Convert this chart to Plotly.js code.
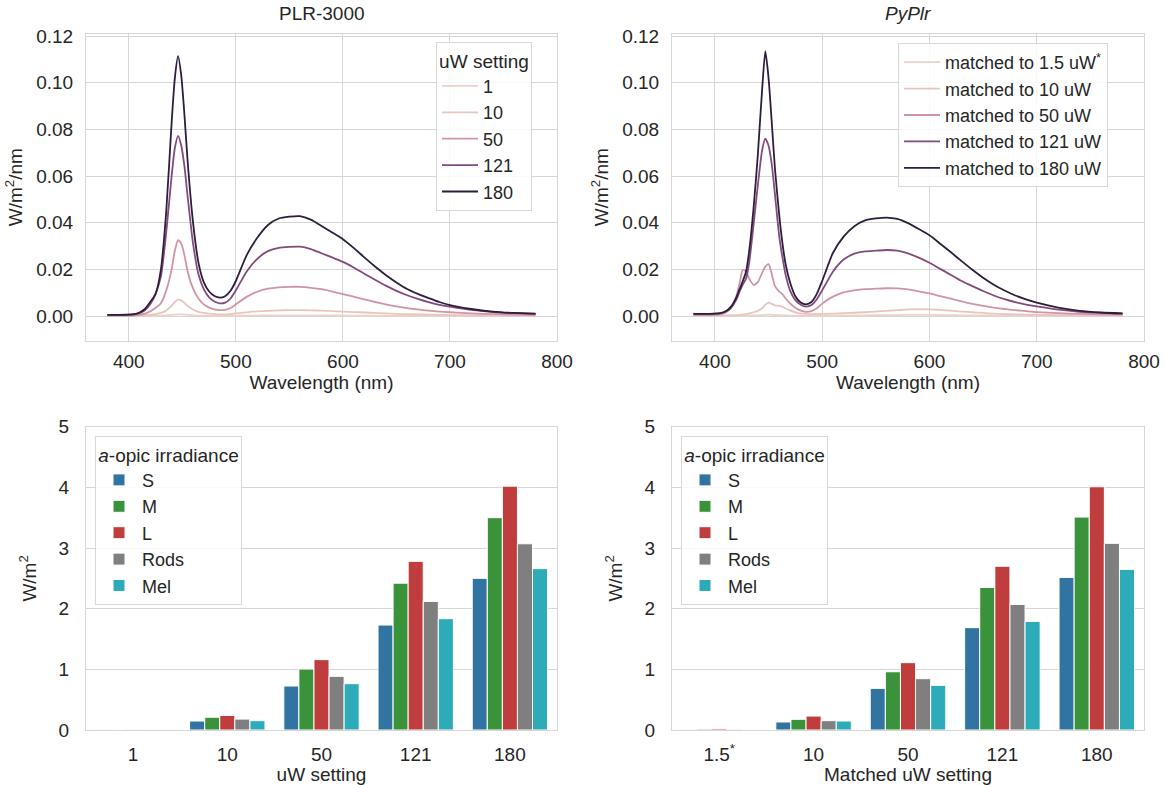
<!DOCTYPE html>
<html><head><meta charset="utf-8">
<script src="https://cdn.plot.ly/plotly-3.0.1.min.js"></script>
<style>html,body{margin:0;padding:0;background:#fff}#chart{width:1165px;height:785px}</style>
</head><body><div id="chart"></div>
<script>
// ---- Spectra: PLR-3000 ----
const wlPLR = [380,390,400,405,410,415,420,425,430,435,440,443,446,449,452,455,460,465,470,475,480,485,490,495,500,510,520,530,540,550,560,570,580,590,600,610,620,630,640,650,660,670,680,690,700,720,740,760,780];
const plr1 = [.0001,.0001,.0001,.0001,.0001,.0001,.0001,.0001,.0002,.0003,.0005,.0006,.0007,.0007,.0006,.0005,.0003,.0002,.0002,.0001,.0001,.0001,.0001,.0001,.0002,.0002,.0002,.0003,.0003,.0003,.0003,.0003,.0003,.0003,.0002,.0002,.0002,.0002,.0001,.0001,.0001,.0001,.0001,.0001,.0001,.0001,.0001,.0001,.0001];
const plr10 = [.0001,.0001,.0001,.0001,.0002,.0003,.0005,.0008,.0013,.0024,.0044,.006,.007,.0067,.0056,.0043,.0028,.0018,.0013,.001,.0008,.0007,.0007,.0008,.0011,.0016,.002,.0022,.0024,.0025,.0025,.0024,.0023,.0021,.0019,.0017,.0015,.0013,.0011,.0009,.0008,.0007,.0006,.0005,.0004,.0003,.0002,.0002,.0001];
const plr50 = [.0002,.0002,.0002,.0003,.0005,.001,.002,.0035,.0055,.011,.020,.028,.0325,.031,.026,.019,.0118,.0075,.005,.0036,.0028,.0025,.0026,.0034,.005,.0082,.0104,.0117,.0123,.0125,.0125,.0121,.0115,.0105,.0094,.0083,.0071,.006,.005,.0041,.0034,.0028,.0023,.0019,.0016,.0011,.0008,.0006,.0005];
const plr121 = [.0005,.0005,.0006,.0007,.0012,.0025,.005,.0095,.017,.036,.060,.072,.0772,.073,.064,.051,.031,.018,.0115,.008,.0062,.0054,.0057,.0075,.011,.019,.0245,.0278,.0292,.0296,.0297,.0287,.0269,.0251,.0232,.0208,.0181,.0155,.013,.0108,.0089,.0073,.0059,.0048,.004,.0026,.0017,.0012,.0009];
const plr180 = [.0005,.0005,.0006,.0008,.0015,.003,.006,.0095,.02,.045,.083,.102,.1114,.103,.086,.066,.040,.023,.0145,.0105,.0086,.0079,.0085,.0108,.015,.026,.0335,.039,.0418,.0426,.0428,.0413,.0386,.0358,.0329,.0292,.0251,.0212,.0176,.0144,.0116,.0095,.0077,.006,.0047,.003,.0019,.0013,.001];
const plrLevels = ['1','10','50','121','180'];

// ---- Spectra: PyPlr ----
const wlPyPlr = [380,390,400,405,410,415,420,423,426,429,432,436,440,444,447,450,453,456,460,463,466,470,475,480,485,490,495,500,510,520,530,540,550,560,570,580,590,600,610,620,630,640,650,660,670,680,690,700,720,740,760,780];
const py1p5 = [.0002,.0002,.0002,.0002,.0002,.0002,.0002,.0002,.0002,.0002,.0002,.0003,.0003,.0004,.0005,.0006,.0005,.0004,.0004,.0003,.0003,.0002,.0002,.0002,.0002,.0002,.0002,.0002,.0002,.0003,.0003,.0003,.0004,.0004,.0004,.0005,.0005,.0005,.0004,.0004,.0003,.0003,.0003,.0002,.0002,.0002,.0002,.0002,.0002,.0002,.0002,.0002];
const py10 = [.0002,.0002,.0002,.0002,.0003,.0003,.0004,.0005,.0006,.0008,.0011,.0016,.0022,.0033,.0048,.0057,.0052,.0046,.0043,.0039,.0032,.0024,.0016,.0011,.0009,.0008,.0008,.0009,.001,.0012,.0014,.0016,.0019,.0022,.0025,.0028,.0029,.0028,.0026,.0023,.0019,.0016,.0013,.001,.0008,.0007,.0006,.0005,.0004,.0003,.0003,.0003];
const py50 = [.0004,.0004,.0005,.0007,.0015,.0035,.0085,.014,.0198,.019,.016,.0133,.0145,.0185,.0212,.0222,.018,.0128,.0105,.0093,.0075,.0054,.0035,.0023,.0018,.0021,.0033,.0053,.0083,.0101,.011,.0115,.0117,.0119,.0118,.0114,.0106,.0097,.0085,.0074,.0063,.0052,.0043,.0036,.003,.0025,.0021,.0017,.0012,.0009,.0007,.0006];
const py121 = [.0009,.0009,.001,.0011,.0018,.0035,.007,.0105,.0135,.016,.023,.039,.056,.071,.076,.073,.065,.052,.034,.025,.0175,.011,.0068,.0048,.004,.0047,.0072,.011,.019,.0242,.0267,.0277,.028,.0283,.028,.0268,.025,.0228,.0202,.0176,.015,.0128,.0107,.0088,.0072,.0059,.0049,.0041,.0027,.0018,.0013,.001];
const py180 = [.0009,.0009,.001,.0012,.002,.004,.008,.0115,.015,.019,.028,.046,.069,.097,.1135,.102,.083,.063,.043,.031,.022,.0145,.0085,.0058,.005,.006,.0095,.015,.027,.034,.0385,.041,.0418,.0422,.0416,.0398,.0373,.0346,.031,.0273,.0235,.0198,.0164,.0134,.0109,.0088,.0071,.0057,.0036,.0022,.0015,.0011];
const pyLevels = ['matched to 1.5 uW<sup>*</sup>','matched to 10 uW','matched to 50 uW','matched to 121 uW','matched to 180 uW'];

// ---- a-opic irradiance bars ----
const catsPLR = ['1','10','50','121','180'];
const catsPy = ['1.5<sup>*</sup>','10','50','121','180'];
const opicNames = ['S','M','L','Rods','Mel'];
const plrS = [0.005,0.148,0.725,1.73,2.50];
const plrM = [0.008,0.21,1.005,2.42,3.50];
const plrL = [0.010,0.24,1.16,2.78,4.02];
const plrRods = [0.007,0.18,0.885,2.12,3.07];
const plrMel = [0.005,0.154,0.764,1.835,2.66];
const pyS = [0.010,0.132,0.687,1.687,2.516];
const pyM = [0.015,0.176,0.96,2.35,3.51];
const pyL = [0.020,0.23,1.11,2.70,4.01];
const pyRods = [0.012,0.154,0.846,2.07,3.077];
const pyMel = [0.008,0.148,0.736,1.79,2.648];

const hueColors = ['#edd1cb','#e9c5c2','#d194a4','#824b7c','#2d1e3e'];
const barColors = ['#3274a1','#3a923a','#c03d3e','#7f7f7f','#2eabb8'];

const FONT = 'Liberation Sans, Arial, sans-serif';
const TXT = '#262626';
const GRID = '#d6d6d6';
const FS = 19;
const LFS = 18;

const traces = [];
const plrSeries = [plr1, plr10, plr50, plr121, plr180];
plrSeries.forEach((s, i) => traces.push({
  type:'scatter', mode:'lines', x: wlPLR, y: s, name: plrLevels[i],
  line:{color: hueColors[i], width:1.8, shape:'spline', smoothing:0.6},
  xaxis:'x', yaxis:'y', legend:'legend'
}));
const pySeries = [py1p5, py10, py50, py121, py180];
pySeries.forEach((s, i) => traces.push({
  type:'scatter', mode:'lines', x: wlPyPlr, y: s, name: pyLevels[i],
  line:{color: hueColors[i], width:1.8, shape:'spline', smoothing:0.6},
  xaxis:'x2', yaxis:'y2', legend:'legend2'
}));
const plrBars = [plrS, plrM, plrL, plrRods, plrMel];
plrBars.forEach((s, i) => traces.push({
  type:'bar', x: catsPLR, y: s, name: opicNames[i],
  marker:{color: barColors[i], line:{color:'#ffffff', width:1}},
  xaxis:'x3', yaxis:'y3', legend:'legend3'
}));
const pyBars = [pyS, pyM, pyL, pyRods, pyMel];
pyBars.forEach((s, i) => traces.push({
  type:'bar', x: catsPy, y: s, name: opicNames[i],
  marker:{color: barColors[i], line:{color:'#ffffff', width:1}},
  xaxis:'x4', yaxis:'y4', legend:'legend4'
}));

const W = 1165, H = 785;
const xL = [86/W, 557/W], xR = [672/W, 1144/W];
const yT = [1-340.5/H, 1-33.7/H], yB = [1-730/H, 1-426.7/H];

function ax(extra){
  return Object.assign({
    showgrid:true, gridcolor:GRID, gridwidth:1, zeroline:false,
    showline:true, mirror:true, linecolor:GRID, linewidth:1,
    ticks:'', tickfont:{family:FONT, size:FS, color:TXT}, automargin:false
  }, extra);
}
const specX = (dom, anchor) => ax({domain:dom, anchor:anchor, range:[360,800], tickvals:[400,500,600,700,800], ticklabelstandoff:4,
  title:{text:'Wavelength (nm)', font:{family:FONT, size:FS, color:TXT}, standoff:2}});
const specY = (dom, anchor) => ax({domain:dom, anchor:anchor, range:[-0.0105,0.121], tickvals:[0,0.02,0.04,0.06,0.08,0.10,0.12], tickformat:'.2f', ticklabelstandoff:8,
  title:{text:'W/m<sup>2</sup>/nm', font:{family:FONT, size:FS, color:TXT}, standoff:8}});
const barX = (dom, anchor, t) => ax({domain:dom, anchor:anchor, type:'category', range:[-0.5,4.5], showgrid:false, ticklabelstandoff:7,
  title:{text:t, font:{family:FONT, size:FS, color:TXT}, standoff:2}});
const barY = (dom, anchor) => ax({domain:dom, anchor:anchor, range:[0,5], tickvals:[0,1,2,3,4,5], ticklabelstandoff:12,
  title:{text:'W/m<sup>2</sup>', font:{family:FONT, size:FS, color:TXT}, standoff:16}});

function leg(x, y, title){
  const l = {x:x, y:y, xanchor:'left', yanchor:'top', xref:'paper', yref:'paper',
    bgcolor:'rgba(255,255,255,0.85)', bordercolor:'#d9d9d9', borderwidth:1,
    font:{family:FONT, size:LFS, color:TXT}, tracegroupgap:0, itemwidth:36};
  if (title) l.title = {text:title, side:'top center', font:{family:FONT, size:LFS+1, color:TXT}};
  return l;
}

const layout = {
  width:W, height:H, margin:{l:0,r:0,t:0,b:0},
  paper_bgcolor:'#ffffff', plot_bgcolor:'#ffffff',
  font:{family:FONT, color:TXT},
  barmode:'group', bargap:0.2, bargroupgap:0,
  xaxis: specX(xL,'y'), yaxis: specY(yT,'x'),
  xaxis2: specX(xR,'y2'), yaxis2: specY(yT,'x2'),
  xaxis3: barX(xL,'y3','uW setting'), yaxis3: barY(yB,'x3'),
  xaxis4: barX(xR,'y4','Matched uW setting'), yaxis4: barY(yB,'x4'),
  legend: leg(436/W, 1-42/H, 'uW setting'),
  legend2: leg(898/W, 1-43/H, null),
  legend3: leg(95/W, 1-436/H, '<i>a</i>-opic irradiance'),
  legend4: leg(681/W, 1-436/H, '<i>a</i>-opic irradiance'),
  annotations:[
    {text:'PLR-3000', xref:'paper', yref:'paper', x:(xL[0]+xL[1])/2, y:1-14/H, xanchor:'center', yanchor:'middle', showarrow:false, font:{family:FONT, size:FS, color:TXT}},
    {text:'<i>PyPlr</i>', xref:'paper', yref:'paper', x:(xR[0]+xR[1])/2, y:1-14/H, xanchor:'center', yanchor:'middle', showarrow:false, font:{family:FONT, size:FS, color:TXT}}
  ],
  showlegend:true
};

Plotly.newPlot('chart', traces, layout, {displayModeBar:false, staticPlot:true});
</script></body></html>
